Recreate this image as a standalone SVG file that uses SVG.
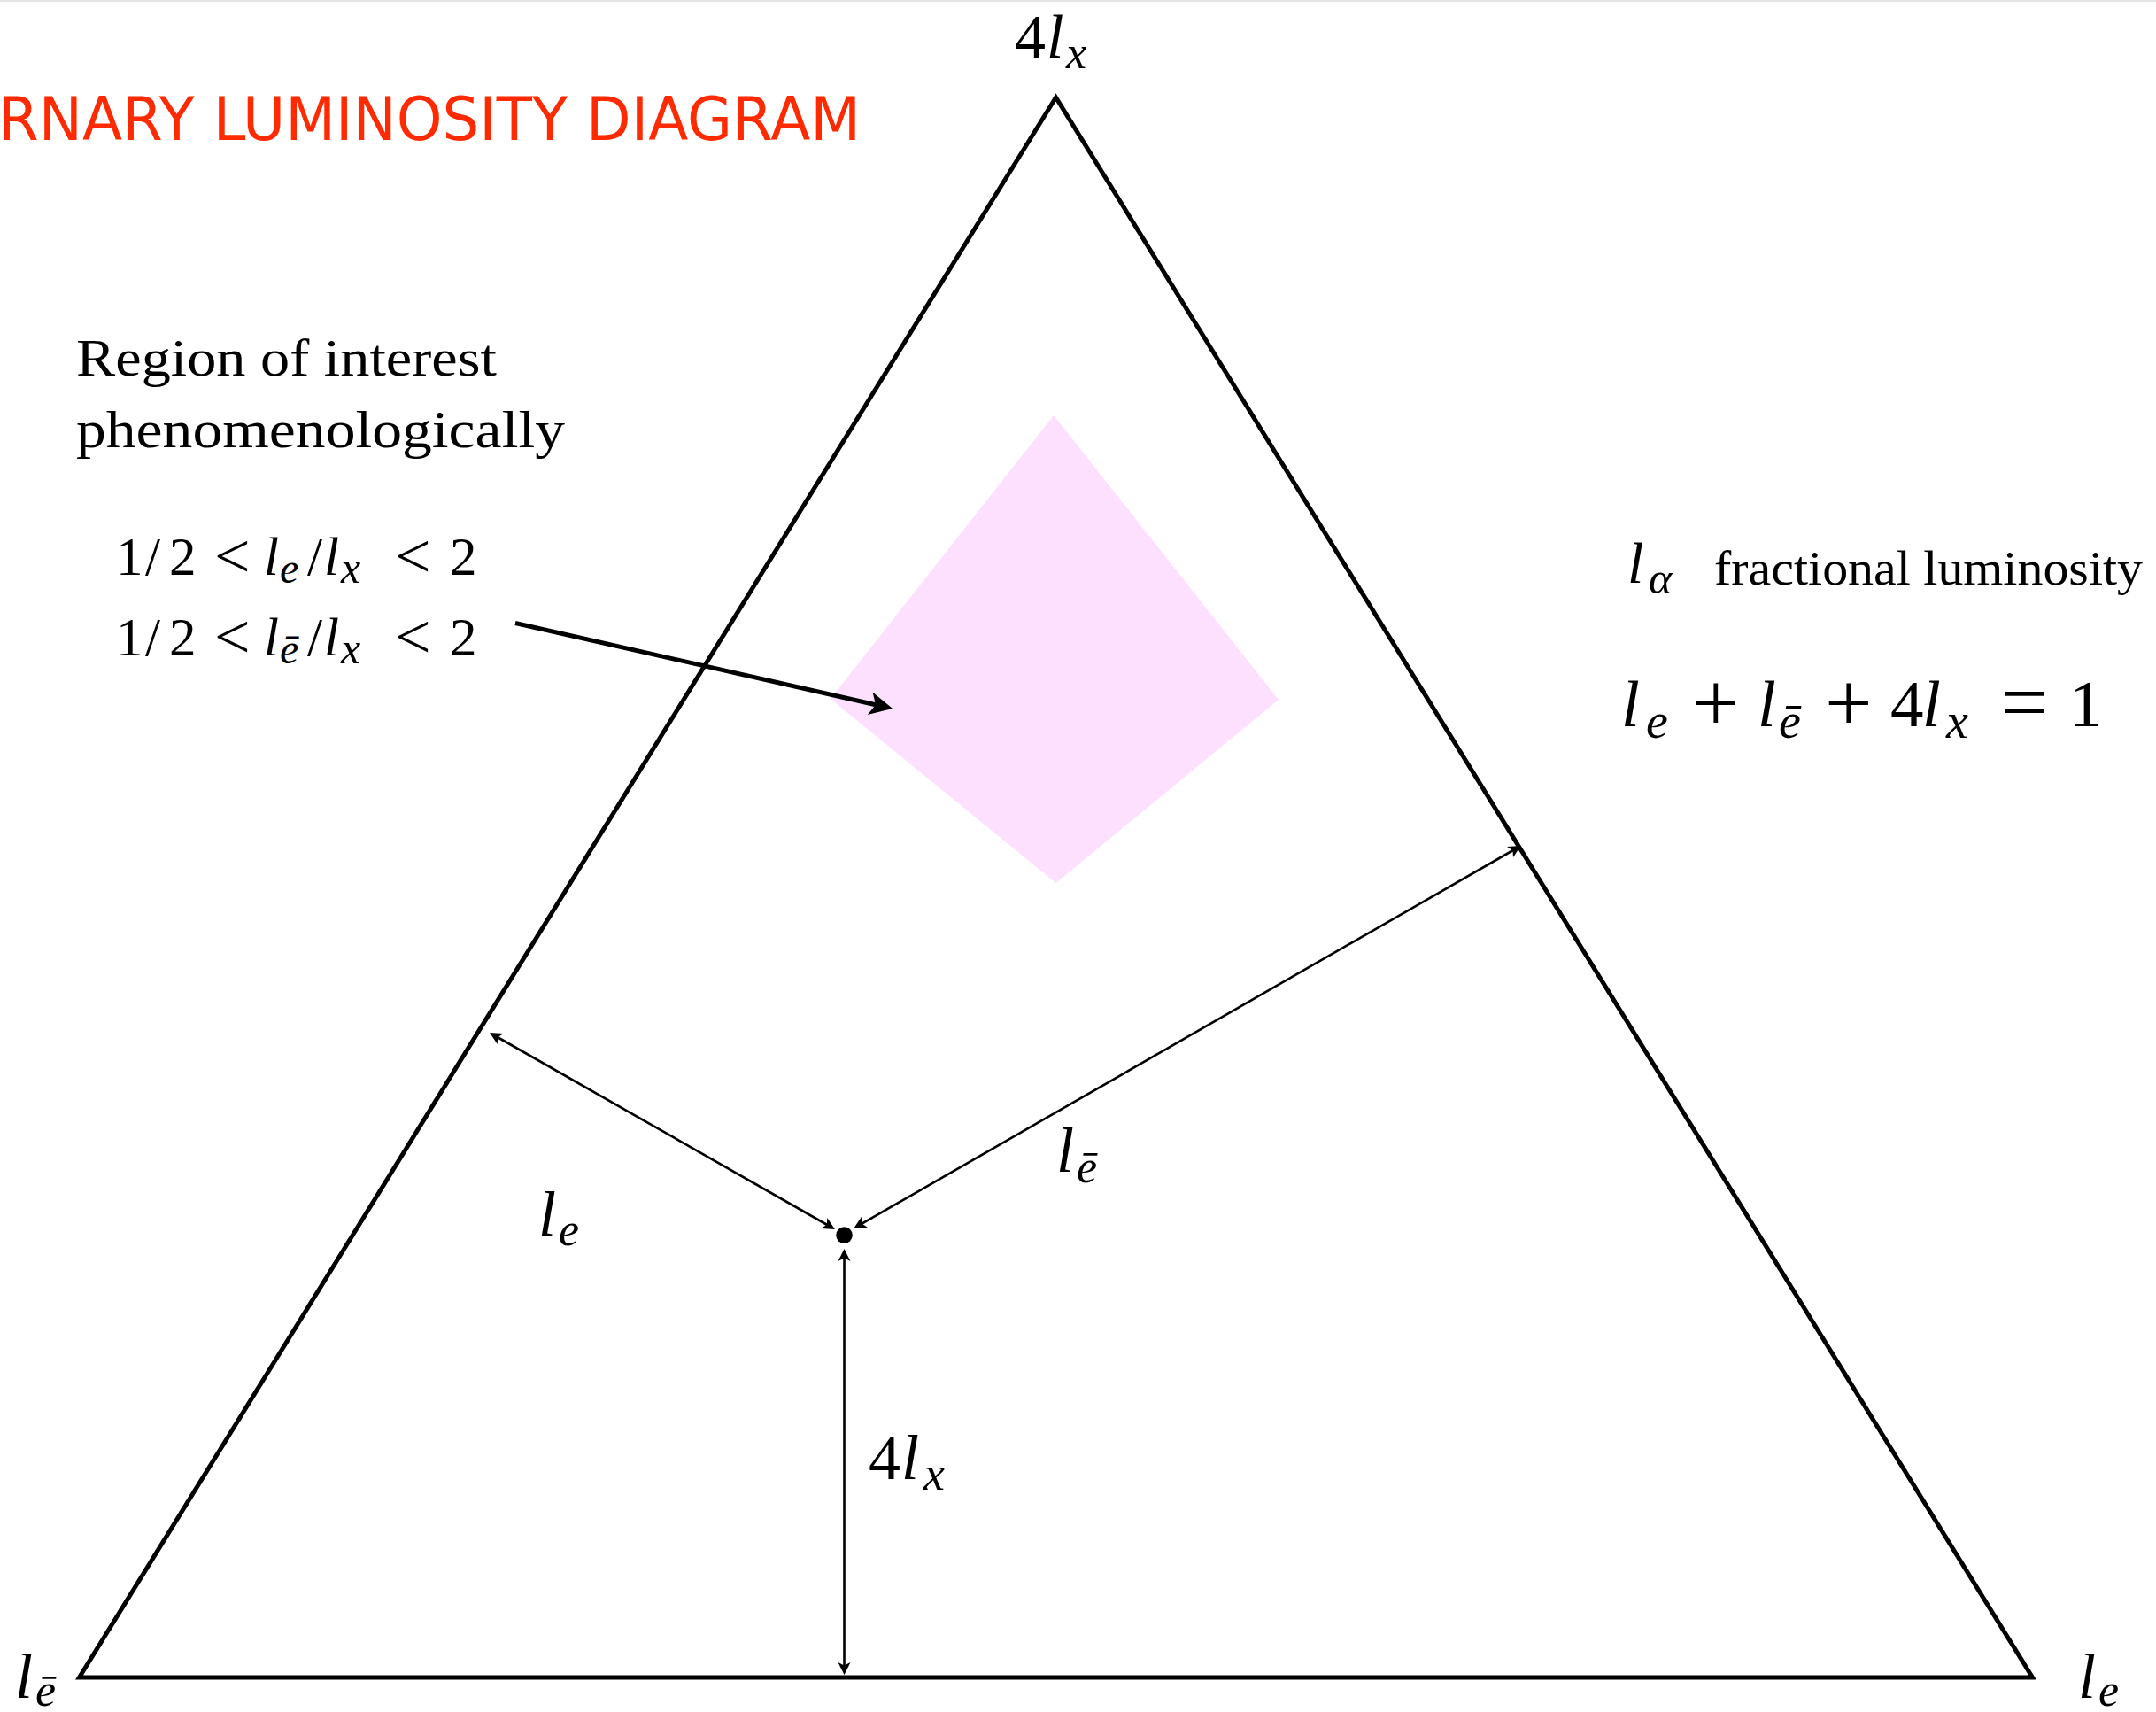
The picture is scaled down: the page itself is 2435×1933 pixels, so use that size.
<svg xmlns="http://www.w3.org/2000/svg" width="2435" height="1933" viewBox="0 0 2435 1933">
<defs>
<style>
.m{font-family:"Liberation Serif","Times New Roman",serif;fill:#000}
.i{font-style:italic}
.prose{font-family:"Liberation Serif","Times New Roman",serif;fill:#000}
.title{font-family:"DejaVu Sans",Verdana,sans-serif;fill:#FF2A00}
.edge{stroke:#000;fill:none;stroke-width:2.6}
.big{stroke:#000;fill:none;stroke-width:5}
</style>
<marker id="ah" markerUnits="userSpaceOnUse" markerWidth="20" markerHeight="20" viewBox="-10 -10 20 20" refX="0" refY="0" orient="auto-start-reverse">
<path d="M8,0 L-6,-7 L-2.5,0 L-6,7 Z" fill="#000"/>
</marker>
<marker id="bigah" markerUnits="userSpaceOnUse" markerWidth="40" markerHeight="40" viewBox="-20 -20 40 40" refX="0" refY="0" orient="auto">
<path d="M15,0 L-11,-13 L-4.5,0 L-11,13 Z" fill="#000"/>
</marker>
</defs>
<rect x="0" y="0" width="2435" height="1933" fill="#fff"/>
<rect x="0" y="0" width="2435" height="2" fill="#e4e4e4"/>

<g id="title">
<text class="title" x="-2" y="158" font-size="68" textLength="974" lengthAdjust="spacingAndGlyphs">RNARY LUMINOSITY DIAGRAM</text>
</g>

<g id="region">
<polygon points="1190,469 1444,790 1192.5,997 938,789" fill="#FDE0FD"/>
</g>

<g id="triangle">
<polygon points="1192.5,110 89.5,1894 2295.5,1894" fill="none" stroke="#000" stroke-width="5" stroke-linejoin="miter"/>
</g>

<g id="point">
<circle cx="953.5" cy="1394.6" r="9.3" fill="#000"/>
</g>

<g id="connectors">
<line class="edge" x1="560" y1="1170" x2="936" y2="1384" marker-start="url(#ah)" marker-end="url(#ah)"/>
<line class="edge" x1="971.3" y1="1382.8" x2="1710.7" y2="959" marker-start="url(#ah)" marker-end="url(#ah)"/>
<line class="edge" x1="953.5" y1="1418" x2="953.5" y2="1883" marker-start="url(#ah)" marker-end="url(#ah)"/>
<line class="big" x1="582" y1="703.5" x2="993.4" y2="796.7" marker-end="url(#bigah)"/>
</g>

<g id="label-top">
<text class="m" font-size="70"><tspan x="1146" y="65">4</tspan><tspan class="i" x="1182" y="65">l</tspan><tspan class="i" x="1204" y="77" font-size="52">x</tspan></text>
</g>

<g id="label-bottom-left">
<text class="m i" font-size="72"><tspan x="17" y="1917">l</tspan><tspan x="40" y="1926" font-size="52">ē</tspan></text>
</g>

<g id="label-bottom-right">
<text class="m i" font-size="72"><tspan x="2347" y="1917">l</tspan><tspan x="2370" y="1926" font-size="52">e</tspan></text>
</g>

<g id="label-le">
<text class="m i" font-size="72"><tspan x="608" y="1395">l</tspan><tspan x="631" y="1406" font-size="52">e</tspan></text>
</g>

<g id="label-lebar">
<text class="m i" font-size="72"><tspan x="1193" y="1323">l</tspan><tspan x="1216" y="1335" font-size="52">ē</tspan></text>
</g>

<g id="label-4lx">
<text class="m" font-size="72"><tspan x="981" y="1670">4</tspan><tspan class="i" x="1018" y="1670">l</tspan><tspan class="i" x="1043" y="1682" font-size="54">x</tspan></text>
</g>

<g id="region-text">
<text class="prose" x="86" y="424" font-size="60" textLength="475" lengthAdjust="spacingAndGlyphs">Region of interest</text>
<text class="prose" x="86" y="505" font-size="60" textLength="552" lengthAdjust="spacingAndGlyphs">phenomenologically</text>
</g>

<g id="ratio-1">
<text class="m" font-size="61"><tspan x="131" y="649">1</tspan><tspan x="164" y="649">/</tspan><tspan x="191" y="649">2</tspan><tspan x="242" y="652" font-size="72">&lt;</tspan><tspan class="i" x="298" y="649">l</tspan><tspan class="i" x="316" y="658" font-size="48">e</tspan><tspan x="347" y="649">/</tspan><tspan class="i" x="366" y="649">l</tspan><tspan class="i" x="385" y="658" font-size="50">x</tspan><tspan x="446" y="652" font-size="72">&lt;</tspan><tspan x="508" y="649">2</tspan></text>
</g>

<g id="ratio-2">
<text class="m" font-size="61"><tspan x="131" y="740">1</tspan><tspan x="164" y="740">/</tspan><tspan x="191" y="740">2</tspan><tspan x="242" y="743" font-size="72">&lt;</tspan><tspan class="i" x="298" y="740">l</tspan><tspan class="i" x="316" y="749" font-size="48">ē</tspan><tspan x="347" y="740">/</tspan><tspan class="i" x="366" y="740">l</tspan><tspan class="i" x="385" y="749" font-size="50">x</tspan><tspan x="446" y="743" font-size="72">&lt;</tspan><tspan x="508" y="740">2</tspan></text>
</g>

<g id="legend">
<text class="m i" font-size="66"><tspan x="1838" y="658">l</tspan><tspan x="1862" y="670" font-size="50">α</tspan></text>
<text class="prose" x="1936" y="660" font-size="55" textLength="484" lengthAdjust="spacingAndGlyphs">fractional luminosity</text>
</g>

<g id="equation">
<text class="m" font-size="75"><tspan class="i" x="1831" y="820">l</tspan><tspan class="i" x="1859" y="833" font-size="56">e</tspan><tspan x="1911" y="825" font-size="95">+</tspan><tspan class="i" x="1985" y="820">l</tspan><tspan class="i" x="2009" y="833" font-size="56">ē</tspan><tspan x="2061" y="825" font-size="95">+</tspan><tspan x="2135" y="820">4</tspan><tspan class="i" x="2171" y="820">l</tspan><tspan class="i" x="2198" y="833" font-size="56">x</tspan><tspan x="2260" y="825" font-size="95">=</tspan><tspan x="2337" y="820">1</tspan></text>
</g>
</svg>
